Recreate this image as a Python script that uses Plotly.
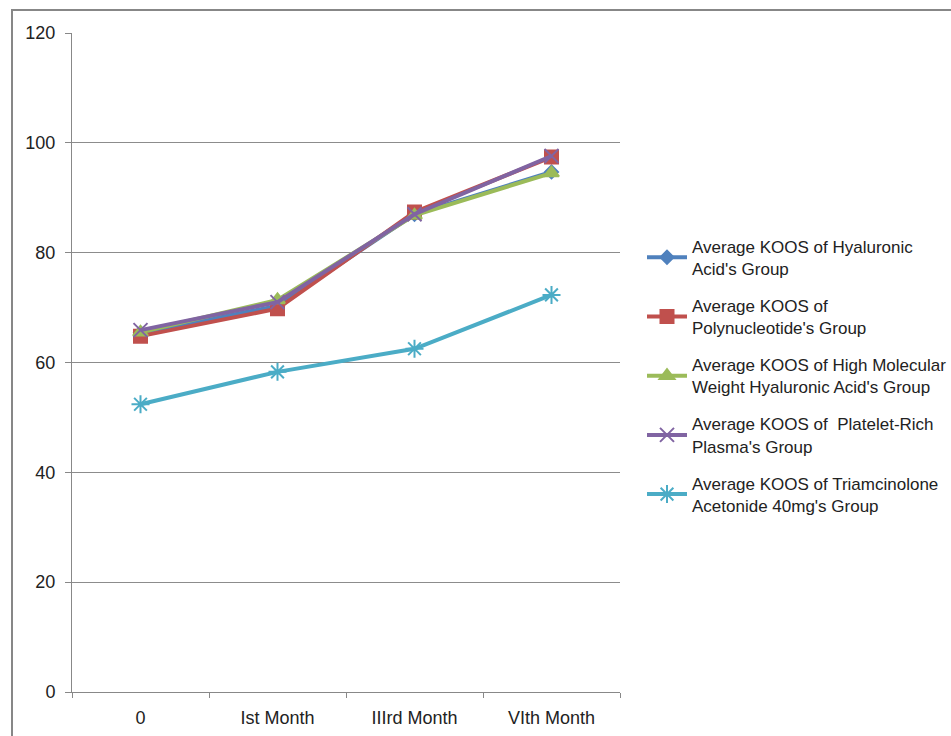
import plotly.graph_objects as go

categories = ["0", "Ist Month", "IIIrd Month", "VIth Month"]
ha = [65.4, 70.3, 87.0, 94.7]
pn = [64.8, 69.8, 87.4, 97.4]
hmw = [65.5, 71.4, 86.8, 94.5]
prp = [65.9, 71.0, 87.0, 97.6]
ta = [52.4, 58.3, 62.5, 72.3]

names = [
    "Average KOOS of Hyaluronic<br>Acid's Group",
    "Average KOOS of<br>Polynucleotide's Group",
    "Average KOOS of High Molecular<br>Weight Hyaluronic Acid's Group",
    "Average KOOS of  Platelet-Rich<br>Plasma's Group",
    "Average KOOS of Triamcinolone<br>Acetonide 40mg's Group",
]
series = [ha, pn, hmw, prp, ta]
colors = ["#4F81BD", "#C0504D", "#9BBB59", "#8064A2", "#4BACC6"]
symbols = ["diamond", "square", "triangle-up", "x-thin-open", "asterisk-open"]
sizes = [10, 13, 13, 14, 15]

fig = go.Figure()
for i, (vals, nm, c, s, sz) in enumerate(zip(series, names, colors, symbols, sizes)):
    fig.add_trace(go.Scatter(
        x=categories, y=vals, name=nm, mode="lines+markers",
        line=dict(color=c, width=4),
        marker=dict(symbol=s, size=sz, color=c, line=dict(color=c, width=2)),
        legendgroup=str(i),
    ))

W, H = 951, 736
L, R, T, B = 72, 331, 33, 44
pw, ph = W - L - R, H - T - B

fig.update_layout(
    width=W, height=H,
    margin=dict(l=L, r=R, t=T, b=B, autoexpand=False),
    paper_bgcolor="white", plot_bgcolor="white",
    font=dict(family="Liberation Sans", size=18, color="#222222"),
    showlegend=True,
    legend=dict(
        x=(642 - L) / pw, xanchor="left", y=0.48, yanchor="middle",
        font=dict(size=17, color="#222222"),
        traceorder="grouped", tracegroupgap=12,
        itemwidth=40, bgcolor="rgba(0,0,0,0)",
    ),
    xaxis=dict(
        type="category", range=[-0.5, 3.5], autorange=False,
        showgrid=False, showline=True, linecolor="#888888",
        linewidth=1, ticks="outside", tickson="boundaries", ticklen=5,
        tickcolor="#888888", ticklabelstandoff=9, zeroline=False,
        automargin=False,
    ),
    yaxis=dict(
        range=[0, 120], tickvals=[0, 20, 40, 60, 80, 100, 120],
        showgrid=True, gridcolor="#8c8c8c", gridwidth=1,
        showline=True, linecolor="#888888", linewidth=1,
        ticks="outside", ticklen=6, tickcolor="#888888",
        ticklabelstandoff=6, zeroline=False, automargin=False,
    ),
    shapes=[dict(
        type="rect", xref="paper", yref="paper",
        x0=(12 - L) / pw, x1=(980 - L) / pw,
        y0=(T + ph - 760) / ph, y1=1 + (T - 10) / ph,
        line=dict(color="#878787", width=2), fillcolor="rgba(0,0,0,0)",
        layer="below",
    )],
)

fig.write_html("out.html")
